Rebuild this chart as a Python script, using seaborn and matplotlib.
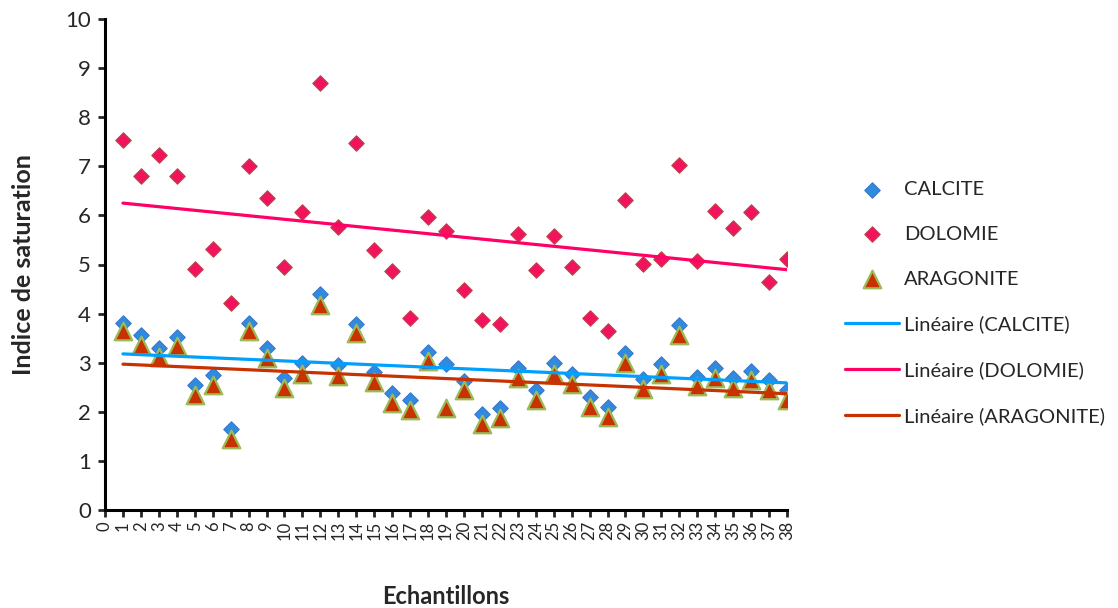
import numpy as np
import pandas as pd
import matplotlib
matplotlib.use("Agg")
import matplotlib.pyplot as plt
import seaborn as sns

# =========================
# Data
# =========================
echantillons = list(range(1, 39))

calcite = [3.80, 3.56, 3.29, 3.53, 2.55, 2.75, 1.64, 3.80, 3.29, 2.68,
           2.99, 4.39, 2.95, 3.78, 2.82, 2.38, 2.24, 3.22, 2.97, 2.63,
           1.95, 2.08, 2.89, 2.44, 2.99, 2.77, 2.31, 2.10, 3.19, 2.67,
           2.97, 3.77, 2.71, 2.89, 2.68, 2.84, 2.65, 2.44]

dolomie = [7.53, 6.80, 7.22, 6.81, 4.91, 5.32, 4.22, 7.00, 6.36, 4.95,
           6.06, 8.70, 5.76, 7.47, 5.29, 4.87, 3.92, 5.96, 5.68, 4.48,
           3.86, 3.78, 5.63, 4.89, 5.58, 4.94, 3.92, 3.65, 6.31, 5.01,
           5.12, 7.03, 5.08, 6.09, 5.74, 6.06, 4.64, 5.11]

aragonite = [3.65, 3.37, 3.12, 3.33, 2.34, 2.55, 1.45, 3.65, 3.10, 2.48,
             2.78, 4.18, 2.72, 3.60, 2.61, 2.17, 2.04, 3.04, 2.07, 2.44,
             1.75, 1.88, 2.69, 2.24, 2.78, 2.56, 2.10, 1.90, 2.99, 2.46,
             2.77, 3.57, 2.53, 2.69, 2.48, 2.64, 2.45, 2.25]

df = pd.DataFrame({
    "Echantillons": echantillons,
    "CALCITE": calcite,
    "DOLOMIE": dolomie,
    "ARAGONITE": aragonite,
})

# =========================
# Style
# =========================
sns.set_style("white")
plt.rcParams["font.family"] = ["Lato", "DejaVu Sans"]

fig = plt.figure(figsize=(11.18, 6.08), dpi=100)
ax = fig.add_axes([105 / 1118, 1 - 510 / 608, (787 - 105) / 1118, (510 - 19) / 608])

# =========================
# Points
# =========================
sns.scatterplot(data=df, x="Echantillons", y="CALCITE", marker="D", s=62,
                color="#2F8AE0", edgecolor="#3E78C8", linewidth=0.8,
                label="CALCITE", ax=ax, zorder=3)
sns.scatterplot(data=df, x="Echantillons", y="DOLOMIE", marker="D", s=62,
                color="#F2125E", edgecolor="#B8474A", linewidth=0.8,
                label="DOLOMIE", ax=ax, zorder=3)
sns.scatterplot(data=df, x="Echantillons", y="ARAGONITE", marker="^", s=160,
                color="#C83200", edgecolor="#9BBB59", linewidth=1.6,
                label="ARAGONITE", ax=ax, zorder=4)

# =========================
# Trend lines
# =========================
sns.regplot(data=df, x="Echantillons", y="CALCITE", scatter=False, ci=None,
            truncate=True, color="#00A0FF", line_kws={"lw": 2.3, "zorder": 5},
            label="Linéaire (CALCITE)", ax=ax)
sns.regplot(data=df, x="Echantillons", y="DOLOMIE", scatter=False, ci=None,
            truncate=True, color="#FF0066", line_kws={"lw": 2.3, "zorder": 5},
            label="Linéaire (DOLOMIE)", ax=ax)
sns.regplot(data=df, x="Echantillons", y="ARAGONITE", scatter=False, ci=None,
            truncate=True, color="#C83200", line_kws={"lw": 2.3, "zorder": 5},
            label="Linéaire (ARAGONITE)", ax=ax)

# =========================
# Axes
# =========================
ax.set_xlim(0, 38)
ax.set_ylim(0, 10)
ax.set_xticks(range(0, 39))
ax.set_xticklabels([str(i) for i in range(0, 39)], rotation=90, fontsize=12)
ax.set_yticks(range(0, 11))
ax.tick_params(axis="y", labelsize=16, length=5, width=2, direction="out", left=True, pad=5)
ax.tick_params(axis="x", length=5, width=2, direction="out", bottom=True, pad=3)

for side in ["top", "right"]:
    ax.spines[side].set_visible(False)
for side in ["left", "bottom"]:
    ax.spines[side].set_color("black")
    ax.spines[side].set_linewidth(2.2)

ax.set_xlabel("Echantillons", fontsize=17, fontweight="bold", labelpad=32)
ax.set_ylabel("Indice de saturation", fontsize=18, fontweight="bold", labelpad=22)

# =========================
# Legend
# =========================
handles, labels = ax.get_legend_handles_labels()
ax.legend(handles, labels, loc="center left", bbox_to_anchor=(845 / 1118, 0.502),
          bbox_transform=fig.transFigure, frameon=False, fontsize=14.5,
          handlelength=2.7, handletextpad=0.25, labelspacing=1.38,
          borderpad=0, borderaxespad=0, scatterpoints=1)

plt.savefig("out.png", dpi=100)
